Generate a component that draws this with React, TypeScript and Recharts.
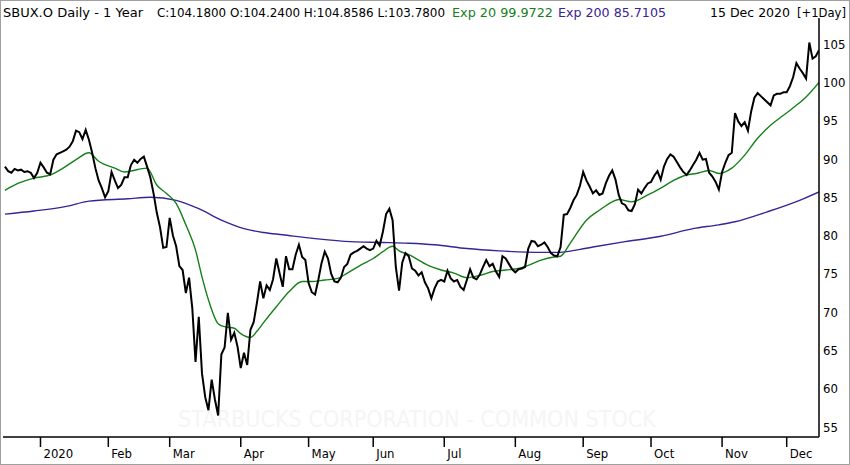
import React from 'react';
import { LineChart, Line, XAxis, YAxis } from 'recharts';

// Daily closes, 16 Dec 2019 .. 15 Dec 2020 (one per trading day)
const closeValues = [
  89.0, 88.4, 88.2, 88.7, 88.5, 88.6, 88.3, 88.4, 88.2, 87.5,
  88.2, 89.5, 88.9, 88.2, 88.0, 89.9, 90.6, 90.8, 91.0, 91.2,
  91.6, 92.3, 93.7, 93.5, 92.6, 93.8, 92.5, 90.8, 88.8, 87.2,
  86.2, 85.0, 85.8, 88.3, 87.2, 86.2, 86.6, 87.6, 87.6, 89.2,
  89.9, 89.5, 90.0, 90.3, 89.0, 87.6, 85.5, 83.0, 81.1, 78.4,
  78.5, 82.3, 80.0, 78.6, 76.0, 75.5, 72.5, 74.5, 70.5, 63.5,
  69.4, 62.0, 58.9, 57.2, 61.2, 58.6, 56.5, 64.5, 65.4, 69.9,
  66.4, 67.3, 65.5, 62.7, 64.7, 63.1, 67.7, 68.7, 71.2, 74.0,
  71.8, 73.5, 72.9, 74.3, 77.0, 75.1, 73.3, 77.3, 75.6, 75.6,
  77.5, 78.8, 77.2, 76.8, 73.8, 72.6, 72.3, 74.2, 76.4, 77.9,
  77.0, 75.0, 74.0, 73.9, 74.5, 75.9, 76.3, 77.5, 77.8, 78.0,
  78.3, 78.6, 78.3, 78.1, 78.3, 79.3, 78.7, 80.5, 82.8, 83.5,
  82.0, 75.9, 72.8, 76.5, 77.7, 77.3, 75.7, 75.4, 74.8, 75.2,
  73.9, 73.1, 71.8, 73.1, 74.0, 74.2, 74.0, 75.4, 74.4, 74.0,
  74.2, 73.3, 72.9, 74.2, 75.6, 74.5, 74.3, 74.9, 75.9, 76.8,
  76.0, 76.3, 75.3, 74.6, 77.3, 77.0, 76.3, 75.6, 75.2, 75.6,
  75.7, 75.9, 78.3, 79.3, 79.2, 78.6, 78.8, 79.1, 78.5, 77.7,
  77.4, 77.3, 78.5, 82.7, 82.8, 83.6, 84.6, 85.3, 86.5, 88.3,
  87.2, 86.4, 85.5, 85.9, 85.3, 85.5, 86.8, 87.8, 88.5, 87.3,
  85.3, 84.2, 84.0, 83.3, 83.2, 84.1, 86.0, 85.5, 86.2, 86.8,
  87.0, 87.8, 88.4, 87.3, 89.0, 90.0, 90.6, 90.3, 89.6, 88.9,
  88.3, 87.9, 88.5, 89.2, 89.9, 90.8, 89.9, 90.0, 88.2, 87.7,
  87.0, 86.0, 88.3, 89.5, 90.5, 90.8, 96.0, 94.9, 94.3, 94.8,
  93.7, 96.2, 98.0, 98.6, 98.2, 97.8, 97.4, 97.0, 98.3, 98.5,
  98.5, 98.7, 98.7, 99.5, 100.7, 102.5, 101.8, 101.2, 100.5, 105.2,
  103.1, 103.4, 104.2,
];

// Exp 20 read at these trading-day indices
const ema20Days = [
  0, 4, 9, 14, 18, 22, 26, 29, 34, 37, 44, 47, 50, 53, 56, 59, 61, 63, 66, 68,
  71, 73, 76, 78, 80, 84, 88, 92, 95, 99, 103, 106, 110, 114, 117, 120, 122, 125, 131, 135,
  139, 143, 147, 151, 155, 159, 162, 166, 170, 172, 175, 180, 184, 188, 190, 194, 199, 203, 207, 211,
  214, 218, 221, 225, 229, 233, 237, 241, 245, 248, 252,
];
const ema20Values = [
  85.9, 86.8, 87.5, 87.9, 88.8, 89.9, 90.8, 89.7, 88.8, 88.3, 88.8, 86.6, 85.5, 84.2, 81.4, 78.1, 74.6, 71.6, 68.5, 68.1,
  67.9, 67.2, 66.7, 67.5, 68.6, 70.7, 72.7, 74.0, 74.0, 74.2, 74.4, 75.1, 76.1, 77.0, 77.9, 78.6, 78.0, 77.5, 76.1, 75.5,
  75.1, 74.5, 74.8, 75.3, 75.5, 75.7, 76.1, 76.8, 77.2, 77.3, 79.0, 82.0, 83.3, 84.4, 84.7, 84.4, 85.3, 86.2, 87.2, 87.9,
  88.1, 88.5, 88.1, 88.8, 90.5, 92.7, 94.4, 95.7, 97.0, 98.1, 100.0,
];

// Exp 200 read at these trading-day indices
const ema200Days = [
  0, 9, 19, 26, 38, 45, 53, 60, 67, 74, 80, 86, 96, 107, 117, 125, 133, 143, 153, 166,
  171, 178, 182, 192, 203, 213, 221, 226, 236, 246, 252,
];
const ema200Values = [
  82.8, 83.2, 83.8, 84.5, 84.8, 85.0, 84.6, 83.5, 82.0, 80.9, 80.4, 80.1, 79.6, 79.2, 79.1, 79.0, 78.8, 78.3, 78.0, 77.8,
  77.8, 78.2, 78.5, 79.2, 79.9, 80.9, 81.4, 81.8, 83.1, 84.6, 85.7,
];

// first trading day of each month
const monthDays = [11, 32, 51, 73, 94, 114, 136, 158, 179, 200, 222, 242];
const monthLabels = ['2020', 'Feb', 'Mar', 'Apr', 'May', 'Jun', 'Jul', 'Aug', 'Sep', 'Oct', 'Nov', 'Dec'];

const priceTicks = [55, 60, 65, 70, 75, 80, 85, 90, 95, 100, 105];

const chartData = closeValues.map((close, day) => {
  const a = ema20Days.indexOf(day);
  const b = ema200Days.indexOf(day);
  return {
    day,
    close,
    ema20: a >= 0 ? ema20Values[a] : null,
    ema200: b >= 0 ? ema200Values[b] : null,
  };
});

const axisFont = "'DejaVu Sans Condensed', 'DejaVu Sans', sans-serif";
const headFont = "'DejaVu Sans', sans-serif";
const GREEN = '#15801a';
const PURPLE = '#3a2394';

function MonthTick({ x, y, payload }: any) {
  const label = monthLabels[monthDays.indexOf(payload.value)];
  return (
    <text x={x + 3} y={y + 9} textAnchor="start" fontSize={13} fontFamily={axisFont} fill="#000">
      {label}
    </text>
  );
}

export default function App() {
  return (
    <div style={{ position: 'absolute', left: 0, top: 0, width: 850, height: 465, background: '#fff', overflow: 'hidden' }}>
      {/* faint watermark behind the plot */}
      <svg width={850} height={465} style={{ position: 'absolute', left: 0, top: 0 }}>
        <text x={178} y={427} fontSize={23} fontFamily={headFont} fill="#f5f5f5" textLength={478} lengthAdjust="spacingAndGlyphs">
          STARBUCKS CORPORATION - COMMON STOCK
        </text>
      </svg>

      <div style={{ position: 'absolute', left: 0, top: 0 }}>
        <LineChart width={850} height={465} data={chartData} margin={{ top: 18, right: 0, bottom: 0, left: 3 }}>
          <XAxis
            dataKey="day"
            type="number"
            domain={[-0.6, 252]}
            ticks={monthDays}
            allowDataOverflow
            height={28}
            tickSize={10}
            tickMargin={2}
            tickLine={{ stroke: '#000', strokeWidth: 1.5 }}
            axisLine={{ stroke: '#000', strokeWidth: 1.5 }}
            tick={<MonthTick />}
            interval={0}
          />
          <YAxis
            orientation="right"
            domain={[53.7, 108.4]}
            ticks={priceTicks}
            allowDataOverflow
            width={31}
            tickLine={false}
            tickSize={0}
            tickMargin={4}
            axisLine={{ stroke: '#000', strokeWidth: 1.5 }}
            tick={{ fontSize: 13, fill: '#000', fontFamily: axisFont, textAnchor: 'start' }}
            interval={0}
          />
          <Line type="monotone" dataKey="ema200" stroke={PURPLE} strokeWidth={1.4} dot={false} connectNulls isAnimationActive={false} />
          <Line type="monotone" dataKey="ema20" stroke={GREEN} strokeWidth={1.4} dot={false} connectNulls isAnimationActive={false} />
          <Line type="linear" dataKey="close" stroke="#000" strokeWidth={2} dot={false} isAnimationActive={false} />
        </LineChart>
      </div>

      {/* header line */}
      <svg width={850} height={24} style={{ position: 'absolute', left: 0, top: 0 }}>
        <g fontFamily={headFont} fontSize={12.5} fill="#000">
          <text x={3} y={17} textLength={140} lengthAdjust="spacingAndGlyphs">SBUX.O Daily -  1 Year</text>
          <text x={157} y={17} textLength={288} lengthAdjust="spacingAndGlyphs">C:104.1800 O:104.2400 H:104.8586 L:103.7800</text>
          <text x={452} y={17} textLength={101} lengthAdjust="spacingAndGlyphs" fill={GREEN}>Exp 20 99.9722</text>
          <text x={558} y={17} textLength={108} lengthAdjust="spacingAndGlyphs" fill={PURPLE}>Exp 200 85.7105</text>
          <text x={710} y={17} textLength={80} lengthAdjust="spacingAndGlyphs">15 Dec 2020</text>
          <text x={797} y={17} textLength={49} lengthAdjust="spacingAndGlyphs">[+1Day]</text>
        </g>
      </svg>

      {/* outer frame */}
      <div style={{ position: 'absolute', left: 0, top: 0, width: 850, height: 465, boxSizing: 'border-box', border: '1.5px solid #a0a0a0', pointerEvents: 'none' }} />
    </div>
  );
}
